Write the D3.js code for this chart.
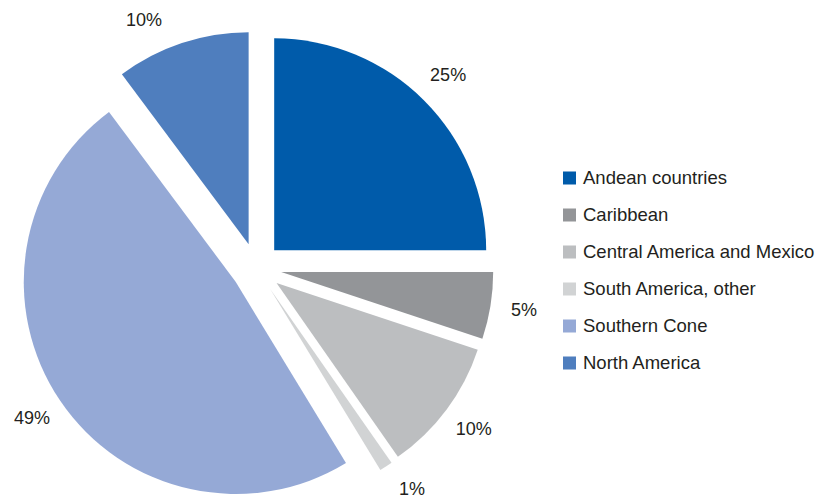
<!DOCTYPE html>
<html>
<head>
<meta charset="utf-8">
<script src="https://cdn.jsdelivr.net/npm/d3@7"></script>
<style>
  body { margin: 0; background: #fff; }
  text { font-family: "Liberation Sans", Arial, sans-serif; fill: #231f20; }
</style>
</head>
<body>
<div id="chart"></div>
<script>
const categories = ["Andean countries", "Caribbean", "Central America and Mexico", "South America, other", "Southern Cone", "North America"];
const values = [25, 5.1, 10.2, 1, 48.5, 10.2];
const labels = ["25%", "5%", "10%", "1%", "49%", "10%"];
const colors = ["#005baa", "#939598", "#bcbec0", "#d1d3d4", "#95a9d6", "#4f7ebe"];

const width = 816, height = 501;
const cx = 256.5, cy = 268;
const radius = 212;
const explode = 25;
const labelRadius = 271;
const labelTop = 21.5;     // labels are kept below this line
const labelBottom = 490;   // ...and above this one

const svg = d3.select("#chart")
    .append("svg")
    .attr("width", width)
    .attr("height", height);

const pie = d3.pie().sort(null).value(d => d)(values);
const arc = d3.arc().innerRadius(0).outerRadius(radius);

const g = svg.append("g").attr("transform", `translate(${cx},${cy})`);

// Slices, each pushed out along its mid angle
g.selectAll(".slice")
    .data(pie)
    .join("path")
    .attr("class", "slice")
    .attr("d", arc)
    .attr("fill", (d, i) => colors[i])
    .attr("transform", d => {
        const a = (d.startAngle + d.endAngle) / 2;
        return `translate(${explode * Math.sin(a)},${-explode * Math.cos(a)})`;
    });

// label position on a circle; slid along it if it would leave the box
function labelPos(d) {
    let a = (d.startAngle + d.endAngle) / 2;
    let y = -labelRadius * Math.cos(a);
    const right = Math.sin(a) >= 0;
    if (cy + y < labelTop) {
        const base = Math.acos((cy - labelTop) / labelRadius);
        a = right ? base : 2 * Math.PI - base;
    } else if (cy + y > labelBottom) {
        const base = Math.acos((cy - labelBottom) / labelRadius);
        a = right ? base : 2 * Math.PI - base;
    }
    return [labelRadius * Math.sin(a), -labelRadius * Math.cos(a)];
}

g.selectAll(".pct")
    .data(pie)
    .join("text")
    .attr("class", "pct")
    .attr("x", d => labelPos(d)[0])
    .attr("y", d => labelPos(d)[1])
    .attr("text-anchor", "middle")
    .attr("dominant-baseline", "middle")
    .attr("font-size", "18px")
    .text((d, i) => labels[i]);

// Legend
const legend = svg.append("g").attr("transform", "translate(563,178)");
const rows = legend.selectAll(".row")
    .data(categories)
    .join("g")
    .attr("class", "row")
    .attr("transform", (d, i) => `translate(0,${i * 37})`);

rows.append("rect")
    .attr("x", 0)
    .attr("y", -6.5)
    .attr("width", 13)
    .attr("height", 13)
    .attr("fill", (d, i) => colors[i]);

rows.append("text")
    .attr("x", 20)
    .attr("y", 1.5)
    .attr("dominant-baseline", "middle")
    .attr("font-size", "18.5px")
    .text(d => d);
</script>
</body>
</html>
